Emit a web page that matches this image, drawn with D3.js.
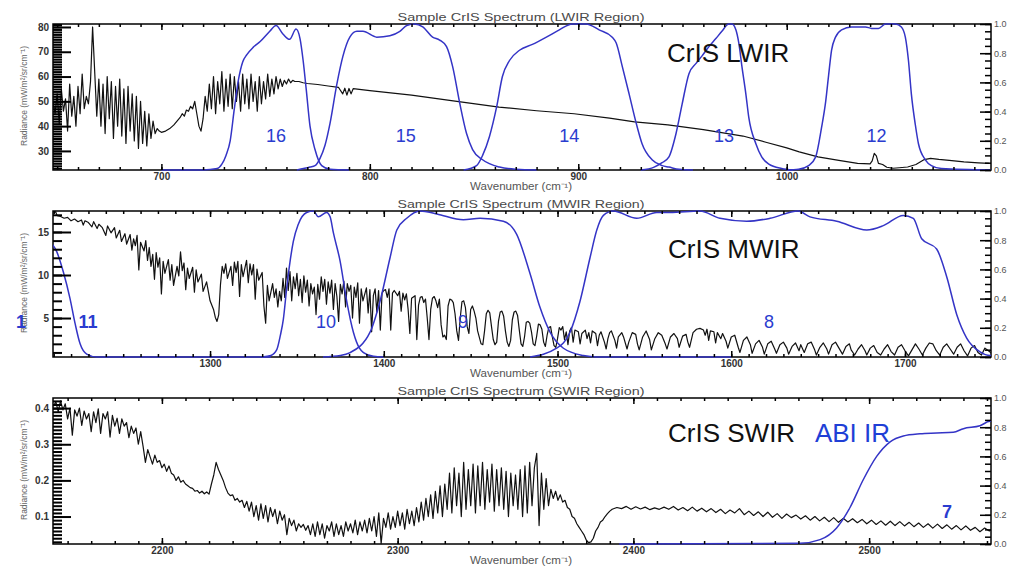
<!DOCTYPE html>
<meta charset="utf-8">
<style>

body {
  margin: 0;
  background: #fff;
}
text {
  font-family: "Liberation Sans", Arial, Helvetica, sans-serif;
}
.frame {
  fill: none;
  stroke: #000;
  stroke-width: 1.5px;
}
.spectrum {
  fill: none;
  stroke: #111;
  stroke-width: 1.2px;
  stroke-linejoin: round;
}
.srf {
  fill: none;
  stroke: #3434c6;
  stroke-width: 1.5px;
}
.axis path { display: none; }
.axis line { stroke: #000; stroke-width: 1.5px; }
.axis.left line { stroke-width: 2px; }
.axis text { fill: #333; font-size: 10px; font-weight: bold; }
.axis.right text { fill: #555; font-size: 9px; font-weight: normal; }
.title { fill: #4a4a4a; font-size: 11px; }
.xlabel { fill: #555; font-size: 10px; }
.ylabel { fill: #666; font-size: 9.5px; }
.region { fill: #111; font-size: 26px; }
.abi { fill: #1f3fd6; font-size: 26px; }
.band { fill: #2a3ccf; font-size: 18px; }

</style>
<svg id="svg" width="1019" height="566"></svg>
<script src="https://d3js.org/d3.v7.min.js"></script>
<script>

// ---- LWIR spectrum [wavenumber, radiance] ----
var lwirRadiance = [
  [648,50],[649,45],[650,53],[651,41],[652,55],[653,46],[654,51],[655,38],[656,57],[657,44],
  [658,52],[659,40],[660,56],[661,45],[662,61],[663,47],[664,52],[665,49],[666,58],[667,80],
  [668,62],[669,44],[670,59],[671,40],[672,57],[673,37],[674,60],[675,43],[676,58],[677,35],
  [678,56],[679,40],[680,59],[681,36],[682,55],[683,33],[684,56],[685,38],[686,53],[687,34],
  [688,52],[689,31],[690,50],[691,33],[692,46],[693,32],[694,45],[695,35],[696,42],[697,37],
  [698,39],[699,38],[700,37.5],[702,38],[704,39],[706,40.5],[708,42.5],[709,43.5],[710,45],
  [711,44],[712,46.5],[713,46],[714,48],[715,47],[716,50],[717,45],[718,40],[719,38],[720,43],
  [721,52],[722,46],[723,57],[724,47],[725,60],[726,45],[727,58],[728,49],[729,62],[730,46],
  [731,59],[732,48],[733,61],[734,47],[735,60],[736,50],[737,58],[738,46],[739,61],[740,49],
  [741,59],[742,47],[743,61],[744,50],[745,58],[746,46],[747,60],[748,49],[749,58],[750,51],
  [751,61],[752,52],[753,59],[754,53],[755,60],[756,55],[757,59],[758,56],[759,58.5],[760,57],
  [761,59],[762,57.5],[763,58.5],[764,58],[766,58],[768,57.5],[770,57.2],[775,56.8],[780,56.2],
  [785,55.6],[787,53],[788,55.3],[789,52.5],[790,55.2],[791,53],[792,55.1],[795,54.8],[800,54.3],
  [820,52.5],[840,50.2],[862,47.7],[880,46.2],[898,45],[915,43.2],[927,41.7],[943,40.5],
  [960,38.6],[979,36],[990,33.5],[1000,31.2],[1006,29.6],[1015,27.6],[1025,26.2],[1034,25],
  [1040,24.8],[1041,26],[1042,29],[1043,28],[1044,25],[1046,24.5],[1048,23.4],[1051,23],
  [1054,23.2],[1058,23.5],[1062,24.5],[1066,26.5],[1069,27],[1073,26.6],[1078,26.2],
  [1085,25.6],[1092,25.2],[1097,25]
];

// ---- LWIR spectral response [wavenumber, response] ----
var band16 = [[700,0],[720,0],[726.8,0.01],[729,0.04],[731,0.1],[733,0.2],[735,0.42],[737,0.62],
  [739,0.74],[741,0.79],[744,0.84],[747.4,0.88],[752,0.95],[755,0.99],[758.4,0.93],[761.5,0.895],
  [764.6,0.965],[766.5,0.9],[768,0.75],[769.5,0.55],[771.3,0.3],[773.7,0.14],[776.9,0.03],
  [781,0.005],[790,0]];
var band15 = [[765,0],[771.3,0.02],[773.7,0.03],[776.1,0.08],[778.5,0.17],[780.9,0.32],[784.2,0.59],
  [787.1,0.78],[790.4,0.91],[793.8,0.95],[796.7,0.95],[803.3,0.91],[809.6,0.92],[814.4,0.95],
  [817.7,0.99],[821.5,1.0],[825.4,0.98],[830.1,0.91],[833.5,0.89],[836.8,0.845],[839.7,0.71],
  [843.1,0.46],[846.4,0.25],[849.3,0.14],[854.1,0.07],[862.2,0.02],[870.3,0.005],[880,0]];
var band14 = [[845,0],[851.2,0.03],[854.1,0.1],[857.4,0.23],[860.8,0.43],[863.6,0.64],[867,0.75],
  [871.8,0.82],[878,0.86],[884.7,0.91],[890.9,0.96],[897.1,1.0],[903.8,1.0],[910,0.96],
  [916.3,0.91],[918.2,0.87],[921.1,0.71],[924.4,0.52],[927.8,0.32],[930.6,0.18],[935.4,0.07],
  [940.2,0.03],[943.5,0.02],[948.3,0.005],[955,0]];
var band13 = [[930,0],[936.4,0.02],[940.2,0.05],[943.5,0.09],[946.9,0.25],[949.8,0.45],[953.1,0.66],
  [956.5,0.73],[959.3,0.78],[962.7,0.845],[966,0.9],[968.9,0.95],[972.2,1.0],[973.7,1.0],
  [975.6,0.96],[977,0.87],[978.5,0.71],[980.4,0.52],[981.8,0.36],[985.2,0.18],[988,0.09],
  [991.4,0.04],[997.6,0.01],[1003,0]];
var band12 = [[1000,0],[1005.7,0.005],[1010.5,0.03],[1013.9,0.09],[1016.7,0.29],[1018.7,0.47],
  [1020.1,0.65],[1021.5,0.82],[1023.4,0.91],[1026.3,0.96],[1031.1,0.98],[1037.8,0.98],
  [1040.7,0.97],[1044,0.97],[1047.4,1.0],[1052.2,1.0],[1055,0.98],[1056.9,0.91],[1058.4,0.75],
  [1059.8,0.52],[1061.7,0.31],[1063.2,0.18],[1066.5,0.07],[1069.4,0.03],[1074.2,0.01],[1098,0]];

// ---- MWIR spectrum ----
var mwirRadiance = [
  [1210,17.2],[1211,17.4],[1212,16.9],[1214,16.8],[1216,16.6],[1218,16.7],[1220,16.3],[1222,16.5],
  [1224,16.2],[1226,16.4],[1227,15.8],[1228,16.3],[1230,16.1],[1232,15.6],[1233,16.2],[1235,15.4],
  [1236,15.9],[1238,15.5],[1240,14.6],[1241,15.7],[1243,14.9],[1245,15.5],[1246,14.3],[1248,15.2],
  [1249,13.9],[1251,14.8],[1252,13.6],[1254,14.7],[1255,12.9],[1256,14.2],[1257,13.4],[1258,14.6],
  [1259,10.6],[1260,13.8],[1262,12.8],[1263,14.0],[1264,11.7],[1265,13.2],[1266,11.0],[1267,12.4],
  [1268,9.5],[1269,12.6],[1270,10.9],[1271,12.0],[1272,7.8],[1273,11.6],[1274,10.2],[1276,11.8],
  [1277,9.4],[1278,11.2],[1279,8.8],[1281,11.0],[1282,9.9],[1283,12.7],[1284,10.5],[1285,11.4],
  [1286,8.3],[1287,10.8],[1288,9.6],[1290,10.9],[1291,8.0],[1292,10.6],[1293,9.2],[1295,10.1],
  [1296,8.1],[1298,9.2],[1300,7.0],[1302,6.0],[1303,5.1],[1304,4.6],[1305,5.4],[1306,8.9],
  [1307,11.0],[1308,10.2],[1309,11.3],[1310,9.6],[1312,11.0],[1313,8.8],[1314,11.5],[1315,10.3],
  [1316,11.6],[1317,7.5],[1318,11.2],[1319,9.8],[1321,11.7],[1322,9.1],[1323,11.3],[1324,10.0],
  [1325,11.2],[1326,7.2],[1327,10.7],[1328,9.4],[1330,10.3],[1331,6.4],[1332,4.4],[1333,8.8],
  [1334,7.0],[1336,9.0],[1337,7.4],[1338,8.4],[1339,6.3],[1340,8.1],[1341,7.0],[1342,9.6],
  [1343,7.4],[1344,10.8],[1345,8.2],[1346,10.4],[1347,7.0],[1348,9.8],[1349,8.4],[1350,10.2],
  [1351,7.6],[1352,9.5],[1353,6.8],[1354,9.9],[1355,8.0],[1356,9.4],[1357,6.4],[1358,9.0],
  [1359,7.8],[1360,8.6],[1361,5.4],[1362,8.9],[1363,7.2],[1364,9.8],[1365,8.1],[1366,9.5],
  [1367,6.6],[1368,9.2],[1369,7.9],[1370,9.4],[1371,6.0],[1372,9.0],[1373,7.5],[1374,4.6],
  [1375,8.9],[1376,7.8],[1377,9.3],[1378,6.3],[1379,9.0],[1380,8.1],[1381,8.8],[1382,5.0],
  [1383,8.6],[1384,7.4],[1385,9.1],[1386,4.4],[1387,8.4],[1388,7.0],[1390,8.5],[1391,5.6],
  [1392,8.3],[1393,3.4],[1394,7.6],[1395,8.4],[1396,5.7],[1397,8.2],[1398,3.6],[1399,7.9],
  [1400,8.2],[1401,8.3],[1402,7.4],[1403,8.4],[1404,3.6],[1405,7.9],[1406,8.2],[1408,7.6],
  [1409,8.1],[1410,5.8],[1411,7.9],[1412,7.1],[1413,7.8],[1414,6.0],[1415,3.2],[1416,7.3],
  [1418,7.6],[1419,2.5],[1420,6.5],[1421,7.4],[1422,7.5],[1423,6.8],[1424,7.2],[1425,5.0],
  [1426,2.5],[1427,6.0],[1428,7.3],[1429,7.5],[1430,7.0],[1431,6.2],[1432,7.2],[1433,4.2],
  [1434,2.8],[1435,3.0],[1436,2.5],[1437,6.4],[1438,7.2],[1439,7.1],[1440,6.8],[1441,5.5],
  [1442,3.5],[1443,2.4],[1444,5.0],[1445,6.9],[1446,7.0],[1447,6.2],[1448,4.0],[1449,3.2],
  [1450,6.0],[1451,6.4],[1452,5.8],[1453,5.0],[1454,3.5],[1456,2.0],[1457,1.9],[1458,3.5],
  [1459,5.5],[1460,5.9],[1461,5.6],[1462,4.0],[1463,2.5],[1464,1.9],[1465,2.2],[1466,4.6],
  [1467,5.7],[1468,5.8],[1469,5.2],[1470,3.5],[1471,2.2],[1472,1.7],[1473,2.4],[1474,4.8],
  [1475,5.7],[1476,5.8],[1477,5.3],[1478,3.6],[1479,2.0],[1480,1.7],[1481,2.8],[1482,4.5],
  [1483,4.6],[1484,4.4],[1485,3.4],[1486,2.0],[1487,1.8],[1488,2.9],[1489,4.3],[1490,4.2],
  [1491,3.7],[1492,2.2],[1493,1.7],[1494,3.0],[1495,3.9],[1496,4.0],[1497,2.8],[1498,1.8],
  [1499,1.6],[1500,2.6],[1501,3.9],[1502,3.6],[1503,4.0],[1504,2.5],[1505,3.4],[1506,1.9],
  [1507,3.5],[1508,3.9],[1509,2.2],[1510,3.6],[1512,3.4],[1513,2.0],[1514,3.2],[1516,3.6],
  [1517,2.6],[1518,3.3],[1519,2.1],[1520,3.5],[1522,3.2],[1523,1.8],[1524,3.0],[1525,3.4],
  [1527,2.2],[1528,1.4],[1529,2.6],[1530,3.3],[1531,3.5],[1533,2.4],[1534,1.5],[1535,2.8],
  [1537,3.3],[1538,2.8],[1540,1.4],[1541,2.2],[1543,3.3],[1545,3.1],[1546,2.0],[1547,1.3],
  [1549,2.8],[1551,3.5],[1553,2.5],[1554,1.3],[1556,2.6],[1558,3.3],[1560,3.0],[1562,2.0],
  [1563,1.4],[1565,2.8],[1567,3.2],[1569,2.6],[1570,1.6],[1572,2.9],[1574,3.1],[1575,2.2],
  [1576,1.6],[1578,3.3],[1580,3.7],[1582,3.8],[1584,3.6],[1585,3.0],[1586,3.7],[1587,2.4],
  [1588,3.5],[1590,3.4],[1591,2.1],[1592,3.3],[1594,2.6],[1595,3.2],[1597,2.3],[1598,1.5],
  [1600,2.8],[1602,3.0],[1604,1.6],[1605,1.0],[1607,2.4],[1609,2.8],[1611,1.9],[1612,0.9],
  [1614,2.0],[1616,2.4],[1618,1.6],[1619,0.8],[1621,2.0],[1623,2.3],[1625,1.4],[1626,0.9],
  [1628,1.9],[1630,2.2],[1632,1.5],[1633,0.8],[1635,1.7],[1637,2.1],[1639,1.2],[1640,1.9],
  [1642,1.0],[1644,2.0],[1646,2.2],[1648,1.3],[1649,0.7],[1651,1.6],[1653,2.1],[1655,1.4],
  [1656,0.8],[1658,1.9],[1660,2.2],[1662,1.5],[1664,0.8],[1666,1.7],[1668,2.0],[1669,1.3],
  [1671,0.7],[1673,1.4],[1675,1.9],[1677,1.2],[1678,0.7],[1680,1.5],[1682,1.8],[1684,1.0],
  [1686,0.7],[1688,1.4],[1690,1.9],[1692,1.1],[1694,0.7],[1696,1.6],[1698,1.9],[1700,1.2],
  [1702,0.6],[1704,1.3],[1706,2.0],[1708,1.4],[1710,0.7],[1712,1.5],[1714,2.1],[1716,2.0],
  [1718,1.2],[1720,0.7],[1722,1.6],[1724,2.0],[1726,1.4],[1728,0.8],[1730,1.6],[1732,2.0],
  [1734,1.2],[1736,0.6],[1738,1.5],[1740,1.8],[1742,1.0],[1744,0.7],[1746,1.5],[1748,1.2],
  [1750,0.9]
];

// ---- MWIR spectral response ----
var band11 = [[1207.9,0.79],[1211.8,0.72],[1215.6,0.58],[1219.4,0.4],[1222.3,0.23],[1225.2,0.09],
  [1229,0.02],[1234.8,0],[1335,0]];
var band10 = [[1330,0],[1335,0.01],[1338.4,0.05],[1340.5,0.15],[1342.2,0.26],[1344.1,0.47],
  [1346,0.65],[1347.9,0.79],[1350.8,0.91],[1355.6,0.99],[1359.5,1.0],[1362.3,0.96],[1367.1,0.99],
  [1369.1,0.96],[1371,0.85],[1374.8,0.66],[1378.7,0.38],[1382.5,0.17],[1386,0.06],[1388.3,0.03],
  [1394,0.005],[1400,0]];
var band9 = [[1365,0],[1375,0.01],[1380.6,0.03],[1392.1,0.17],[1397.8,0.38],[1403.6,0.68],
  [1407.5,0.87],[1413.2,0.95],[1420.9,1.0],[1430.5,0.98],[1445.8,0.94],[1455.4,0.95],
  [1468.8,0.93],[1476.5,0.84],[1484.2,0.57],[1489.9,0.34],[1495.7,0.17],[1503.4,0.06],
  [1514.9,0.01],[1522.6,0],[1600,0]];
var band8 = [[1484.2,0],[1499.5,0.06],[1507.2,0.17],[1512.9,0.38],[1518.7,0.68],[1522.6,0.87],
  [1526.4,0.97],[1532.1,1.0],[1545.6,0.95],[1557.1,0.99],[1564.7,0.99],[1582,1.0],[1593.5,0.95],
  [1608.9,0.93],[1622.3,0.95],[1638.5,1.0],[1645.3,0.96],[1660.7,0.93],[1678,0.87],[1687.5,0.9],
  [1699,0.97],[1704.8,0.95],[1709.6,0.81],[1718.2,0.74],[1724,0.55],[1729.8,0.29],[1735.5,0.13],
  [1743.2,0.035],[1749,0.01],[1750,0.01]];

// ---- SWIR spectrum ----
var swirRadiance = [
  [2154,0.405],[2155,0.418],[2156,0.39],[2157,0.42],[2158,0.395],[2159,0.412],[2160,0.37],[2161,0.40],
  [2162,0.325],[2163,0.395],[2164,0.378],[2165,0.40],[2166,0.352],[2167,0.392],[2168,0.37],[2169,0.385],
  [2170,0.335],[2171,0.39],[2172,0.36],[2173,0.398],[2174,0.33],[2175,0.385],[2176,0.37],[2177,0.39],
  [2178,0.32],[2179,0.38],[2180,0.35],[2181,0.372],[2182,0.33],[2183,0.37],[2184,0.35],[2185,0.36],
  [2186,0.318],[2187,0.35],[2188,0.33],[2189,0.345],[2190,0.30],[2191,0.335],[2192,0.295],[2193,0.25],
  [2194,0.285],[2195,0.265],[2196,0.245],[2197,0.27],[2198,0.25],[2199,0.255],[2200,0.235],[2201,0.245],
  [2202,0.225],[2203,0.24],[2204,0.22],[2205,0.215],[2206,0.20],[2207,0.21],[2208,0.195],[2209,0.20],
  [2210,0.19],[2211,0.185],[2212,0.18],[2213,0.178],[2214,0.17],[2215,0.172],[2216,0.165],[2217,0.17],
  [2218,0.163],[2219,0.168],[2220,0.162],[2221,0.19],[2222,0.215],[2223,0.25],[2224,0.23],[2225,0.215],
  [2226,0.20],[2227,0.18],[2228,0.165],[2229,0.158],[2230,0.16],[2231,0.145],[2232,0.15],[2233,0.14],
  [2234,0.145],[2235,0.125],[2236,0.142],[2237,0.115],[2238,0.14],[2239,0.10],[2240,0.13],[2241,0.09],
  [2242,0.135],[2243,0.095],[2244,0.13],[2245,0.085],[2246,0.125],[2247,0.10],[2248,0.12],[2249,0.08],
  [2250,0.115],[2251,0.09],[2252,0.105],[2253,0.05],[2254,0.095],[2255,0.075],[2256,0.09],[2257,0.06],
  [2258,0.08],[2259,0.07],[2260,0.078],[2261,0.062],[2262,0.075],[2263,0.05],[2264,0.08],[2265,0.045],
  [2266,0.085],[2267,0.05],[2268,0.08],[2269,0.04],[2270,0.075],[2271,0.06],[2272,0.085],[2273,0.045],
  [2274,0.08],[2275,0.05],[2276,0.075],[2277,0.045],[2278,0.085],[2279,0.06],[2280,0.08],[2281,0.055],
  [2282,0.09],[2283,0.05],[2284,0.085],[2285,0.06],[2286,0.09],[2287,0.055],[2288,0.095],[2289,0.06],
  [2290,0.10],[2291,0.045],[2292,0.11],[2293,0.025],[2294,0.095],[2295,0.07],[2296,0.11],[2297,0.065],
  [2298,0.10],[2299,0.07],[2300,0.115],[2301,0.075],[2302,0.11],[2303,0.065],[2304,0.12],[2305,0.08],
  [2306,0.115],[2307,0.075],[2308,0.125],[2309,0.085],[2310,0.14],[2311,0.09],[2312,0.15],[2313,0.10],
  [2314,0.16],[2315,0.095],[2316,0.17],[2317,0.11],[2318,0.185],[2319,0.10],[2320,0.19],[2321,0.12],
  [2322,0.22],[2323,0.11],[2324,0.235],[2325,0.13],[2326,0.22],[2327,0.10],[2328,0.25],[2329,0.12],
  [2330,0.23],[2331,0.13],[2332,0.245],[2333,0.11],[2334,0.24],[2335,0.13],[2336,0.25],[2337,0.12],
  [2338,0.23],[2339,0.14],[2340,0.245],[2341,0.115],[2342,0.23],[2343,0.13],[2344,0.235],[2345,0.12],
  [2346,0.225],[2347,0.10],[2348,0.22],[2349,0.13],[2350,0.215],[2351,0.12],[2352,0.23],[2353,0.10],
  [2354,0.24],[2355,0.11],[2356,0.25],[2357,0.13],[2358,0.235],[2359,0.275],[2360,0.075],[2361,0.22],
  [2362,0.12],[2363,0.205],[2364,0.13],[2365,0.175],[2366,0.15],[2367,0.17],[2368,0.145],[2369,0.16],
  [2370,0.14],[2371,0.145],[2372,0.125],[2373,0.12],[2374,0.10],[2375,0.095],[2376,0.08],[2377,0.07],
  [2378,0.06],[2379,0.05],[2380,0.035],[2381,0.028],[2382,0.03],[2383,0.04],[2384,0.06],[2385,0.07],
  [2386,0.085],[2387,0.09],[2388,0.10],[2389,0.108],[2390,0.115],[2391,0.12],[2393,0.125],[2395,0.122],
  [2397,0.128],[2399,0.12],[2401,0.127],[2403,0.121],[2405,0.126],[2407,0.119],[2409,0.124],[2411,0.12],
  [2413,0.126],[2415,0.12],[2417,0.128],[2419,0.118],[2421,0.125],[2423,0.116],[2425,0.126],[2427,0.115],
  [2429,0.123],[2431,0.113],[2433,0.122],[2435,0.111],[2437,0.12],[2439,0.108],[2441,0.118],[2443,0.11],
  [2445,0.122],[2447,0.105],[2449,0.115],[2451,0.103],[2453,0.113],[2455,0.10],[2457,0.112],[2459,0.098],
  [2461,0.108],[2463,0.095],[2465,0.107],[2467,0.097],[2469,0.104],[2471,0.093],[2473,0.102],[2475,0.09],
  [2477,0.10],[2479,0.088],[2481,0.098],[2483,0.086],[2485,0.097],[2487,0.084],[2489,0.095],[2491,0.085],
  [2493,0.094],[2495,0.083],[2497,0.092],[2499,0.08],[2501,0.09],[2503,0.078],[2505,0.088],[2507,0.076],
  [2509,0.087],[2511,0.075],[2513,0.086],[2515,0.074],[2517,0.084],[2519,0.072],[2521,0.082],[2523,0.07],
  [2525,0.08],[2527,0.068],[2529,0.079],[2531,0.067],[2533,0.077],[2535,0.065],[2537,0.075],[2539,0.063],
  [2541,0.074],[2543,0.062],[2545,0.07],[2547,0.058],[2549,0.068],[2551,0.06],[2552,0.065]
];

// ---- ABI band 7 response ----
var band7 = [[2394,0],[2470.7,0.005],[2479.2,0.03],[2486.2,0.11],[2491.9,0.25],[2497.5,0.44],
  [2503.2,0.6],[2508.9,0.7],[2514.5,0.74],[2521.6,0.755],[2528.7,0.76],[2535.7,0.765],
  [2540,0.79],[2547,0.81],[2551.3,0.84],[2552,0.84]];

// ---- axis ticks ----
var lwirXTicks = [700, 800, 900, 1000];
var mwirXTicks = [1300, 1400, 1500, 1600, 1700];
var swirXTicks = [2200, 2300, 2400, 2500];
var lwirYTicks = [30, 40, 50, 60, 70, 80];
var mwirYTicks = [5, 10, 15];
var swirYTicks = [0.1, 0.2, 0.3, 0.4];
var srfTicks = [0, 0.2, 0.4, 0.6, 0.8, 1.0];

// ---- band number labels [text, wavenumber, response] ----
var lwirBandLabels = [["16", 755, 0.19], ["15", 817.2, 0.19], ["14", 895.7, 0.19], ["13", 969.9, 0.19], ["12", 1043.1, 0.19]];
var mwirBandLabels = [["1", 1191.2, 0.2], ["11", 1229.8, 0.2], ["10", 1366.8, 0.2], ["9", 1445.6, 0.2], ["8", 1621.7, 0.2]];
var swirBandLabels = [["7", 2533, 0.18]];

var panels = [
  {id: "lwir", region: "LWIR", top: 24, xDomain: [648, 1098], yDomain: [22.3, 81.2],
   xTicks: lwirXTicks, yTicks: lwirYTicks, yMinor: d3.range(23, 81.5, 1), yFormat: d3.format("d"),
   spectrum: lwirRadiance, bands: [band16, band15, band14, band13, band12],
   bandLabels: lwirBandLabels, tag: ["CrIS LWIR", 942.6, 0.74]},
  {id: "mwir", region: "MWIR", top: 211, xDomain: [1209.6, 1749.5], yDomain: [0.47, 17.44],
   xTicks: mwirXTicks, yTicks: mwirYTicks, yMinor: d3.range(1, 17.5, 1), yFormat: d3.format("d"),
   spectrum: mwirRadiance, bands: [band11, band10, band9, band8],
   bandLabels: mwirBandLabels, tag: ["CrIS MWIR", 1563.6, 0.68]},
  {id: "swir", region: "SWIR", top: 398, xDomain: [2153.8, 2551.7], yDomain: [0.024, 0.428],
   xTicks: swirXTicks, yTicks: swirYTicks, yMinor: d3.range(0.03, 0.425, 0.01), yFormat: d3.format(".1f"),
   spectrum: swirRadiance, bands: [band7],
   bandLabels: swirBandLabels, tag: ["CrIS SWIR", 2414.7, 0.70], abi: ["ABI IR", 2477, 0.70]}
];

var svg = d3.select("svg"),
    left = 53,
    right = 991,
    plotH = 146;

panels.forEach(function(p) {
  var g = svg.append("g").attr("transform", "translate(0," + p.top + ")");

  var x = d3.scaleLinear().domain(p.xDomain).range([left, right]);
  var y = d3.scaleLinear().domain(p.yDomain).range([plotH, 0]);
  var y2 = d3.scaleLinear().domain([0, 1]).range([plotH, 0]);

  g.append("clipPath").attr("id", "clip-" + p.id)
    .append("rect")
      .attr("x", left).attr("y", -1)
      .attr("width", right - left).attr("height", plotH + 2);

  g.append("rect").attr("class", "frame")
      .attr("x", left).attr("y", 0)
      .attr("width", right - left).attr("height", plotH);

  var plot = g.append("g").attr("clip-path", "url(#clip-" + p.id + ")");

  var specLine = d3.line()
      .x(function(d) { return x(d[0]); })
      .y(function(d) { return y(d[1]); });
  var srfLine = d3.line()
      .x(function(d) { return x(d[0]); })
      .y(function(d) { return y2(d[1]); })
      .curve(d3.curveMonotoneX);

  plot.append("path").datum(p.spectrum)
      .attr("class", "spectrum")
      .attr("d", specLine);

  plot.selectAll(".srf").data(p.bands).enter()
    .append("path")
      .attr("class", "srf")
      .attr("d", srfLine);

  // x axes, ticks inward on top and bottom
  var xMinor = d3.range(Math.ceil(p.xDomain[0] / 10) * 10, p.xDomain[1], 10);
  g.append("g").attr("class", "axis").attr("transform", "translate(0," + plotH + ")")
      .call(d3.axisBottom(x).tickValues(xMinor).tickSize(-3).tickFormat(""));
  g.append("g").attr("class", "axis").attr("transform", "translate(0," + plotH + ")")
      .call(d3.axisBottom(x).tickValues(p.xTicks).tickSize(-6).tickPadding(3).tickFormat(d3.format("d")));
  g.append("g").attr("class", "axis")
      .call(d3.axisTop(x).tickValues(xMinor).tickSize(-3).tickFormat(""));
  g.append("g").attr("class", "axis")
      .call(d3.axisTop(x).tickValues(p.xTicks).tickSize(-6).tickFormat(""));

  // left radiance axis
  g.append("g").attr("class", "axis left").attr("transform", "translate(" + left + ",0)")
      .call(d3.axisLeft(y).tickValues(p.yMinor).tickSize(-9).tickFormat(""));
  g.append("g").attr("class", "axis left").attr("transform", "translate(" + left + ",0)")
      .call(d3.axisLeft(y).tickValues(p.yTicks).tickSize(-18).tickPadding(4).tickFormat(p.yFormat));

  // right response axis
  g.append("g").attr("class", "axis right").attr("transform", "translate(" + right + ",0)")
      .call(d3.axisRight(y2).tickValues(d3.range(0, 1.01, 0.05)).tickSize(-6).tickFormat(""));
  g.append("g").attr("class", "axis right").attr("transform", "translate(" + right + ",0)")
      .call(d3.axisRight(y2).tickValues(srfTicks).tickSize(-11).tickPadding(3).tickFormat(d3.format(".1f")));

  // titles
  g.append("text").attr("class", "title")
      .attr("x", 521).attr("y", -3)
      .attr("text-anchor", "middle")
      .attr("textLength", 247).attr("lengthAdjust", "spacingAndGlyphs")
      .text("Sample CrIS Spectrum (" + p.region + " Region)");

  g.append("text").attr("class", "xlabel")
      .attr("x", 521).attr("y", plotH + 20)
      .attr("text-anchor", "middle")
      .attr("textLength", 102).attr("lengthAdjust", "spacingAndGlyphs")
      .text("Wavenumber (cm\u207B\u00B9)");

  g.append("text").attr("class", "ylabel")
      .attr("transform", "translate(27," + 72 + ") rotate(-90)")
      .attr("text-anchor", "middle")
      .attr("textLength", 100).attr("lengthAdjust", "spacingAndGlyphs")
      .text("Radiance (mW/m\u00B2/sr/cm\u207B\u00B9)");

  // annotations
  g.append("text").attr("class", "region")
      .attr("x", x(p.tag[1])).attr("y", y2(p.tag[2]))
      .text(p.tag[0]);
  if (p.abi) {
    g.append("text").attr("class", "abi")
        .attr("x", x(p.abi[1])).attr("y", y2(p.abi[2]))
        .text(p.abi[0]);
  }

  g.selectAll(".band").data(p.bandLabels).enter()
    .append("text")
      .attr("class", "band")
      .attr("text-anchor", "middle")
      .attr("x", function(d) { return x(d[1]); })
      .attr("y", function(d) { return y2(d[2]); })
      .style("font-weight", function(d) { return (d[0] === "11" || d[0] === "1" || d[0] === "7") ? "bold" : "normal"; })
      .text(function(d) { return d[0]; });
});

</script>
